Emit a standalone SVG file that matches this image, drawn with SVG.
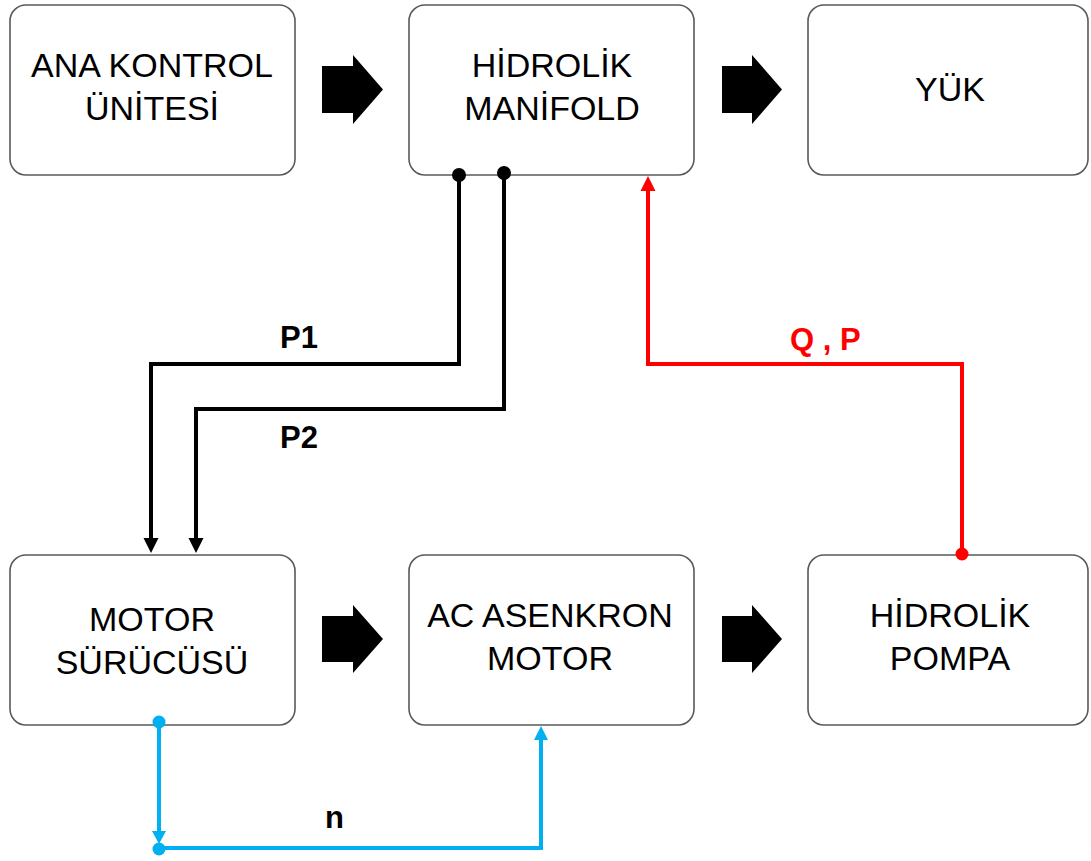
<svg xmlns="http://www.w3.org/2000/svg" width="1091" height="861" viewBox="0 0 1091 861">
<style>
.box{fill:#fff;stroke:#595959;stroke-width:1.6}
.lbl{font-family:"Liberation Sans",Arial,sans-serif;font-size:34px;fill:#000;text-anchor:middle}
.tag{font-family:"Liberation Sans",Arial,sans-serif;font-size:31px;font-weight:bold;fill:#000}
.blk{fill:#000}
.k{fill:none;stroke:#000;stroke-width:4}
.r{fill:none;stroke:#ff0000;stroke-width:4}
.b{fill:none;stroke:#00b0f0;stroke-width:4}
</style>
<rect width="1091" height="861" fill="#fff"/>
<g id="ana-kontrol"><rect class="box" x="10" y="5" width="285" height="170" rx="16"/><text class="lbl" x="152" y="77">ANA KONTROL</text><text class="lbl" x="152" y="120">ÜNİTESİ</text></g>
<g id="hidrolik-manifold"><rect class="box" x="409" y="5" width="285" height="170" rx="16"/><text class="lbl" x="552" y="77">HİDROLİK</text><text class="lbl" x="552" y="120">MANİFOLD</text></g>
<g id="yuk"><rect class="box" x="808" y="5" width="280" height="170" rx="16"/><text class="lbl" x="950" y="101">YÜK</text></g>
<g id="motor-surucusu"><rect class="box" x="10" y="555" width="285" height="170" rx="16"/><text class="lbl" x="152" y="631">MOTOR</text><text class="lbl" x="152" y="674">SÜRÜCÜSÜ</text></g>
<g id="ac-asenkron-motor"><rect class="box" x="409" y="555" width="285" height="170" rx="16"/><text class="lbl" x="550" y="627">AC ASENKRON</text><text class="lbl" x="550" y="670">MOTOR</text></g>
<g id="hidrolik-pompa"><rect class="box" x="808" y="555" width="280" height="170" rx="16"/><text class="lbl" x="950" y="627">HİDROLİK</text><text class="lbl" x="950" y="670">POMPA</text></g>
<g id="connectors">
<path class="blk" d="M322,66H353V55L383,89.5L353,124V113H322Z"/>
<path class="blk" d="M722,66H752V55L782,89.5L752,124V113H722Z"/>
<path class="blk" d="M322,616H353V605L383,639L353,673V662H322Z"/>
<path class="blk" d="M722,616H752V605L782,639L752,673V662H722Z"/>
<path class="k" d="M459,176V364H151V540"/>
<path class="blk" d="M143.5,538H158.5L151,553Z"/>
<circle class="blk" cx="459" cy="175" r="7"/>
<path class="k" d="M504,174V409H196V540"/>
<path class="blk" d="M188.5,538H203.5L196,553Z"/>
<circle class="blk" cx="504" cy="173" r="7"/>
<path class="r" d="M962,555V364H648V190"/>
<path fill="#ff0000" d="M640.5,191H655.5L648,176Z"/>
<circle fill="#ff0000" cx="962" cy="554" r="6.5"/>
<path class="b" d="M159,722V832"/>
<path fill="#00b0f0" d="M152,831H166L159,844Z"/>
<path class="b" d="M159,848H541V740"/>
<path fill="#00b0f0" d="M534,740H548L541,726Z"/>
<circle fill="#00b0f0" cx="159" cy="722" r="6.5"/>
<circle fill="#00b0f0" cx="159" cy="849" r="6.5"/>
<text class="tag" x="280" y="348">P1</text>
<text class="tag" x="280" y="448">P2</text>
<text class="tag" x="325" y="828">n</text>
<text class="tag" x="790" y="350" fill="#ff0000" style="fill:#ff0000">Q , P</text>
</g>
</svg>
